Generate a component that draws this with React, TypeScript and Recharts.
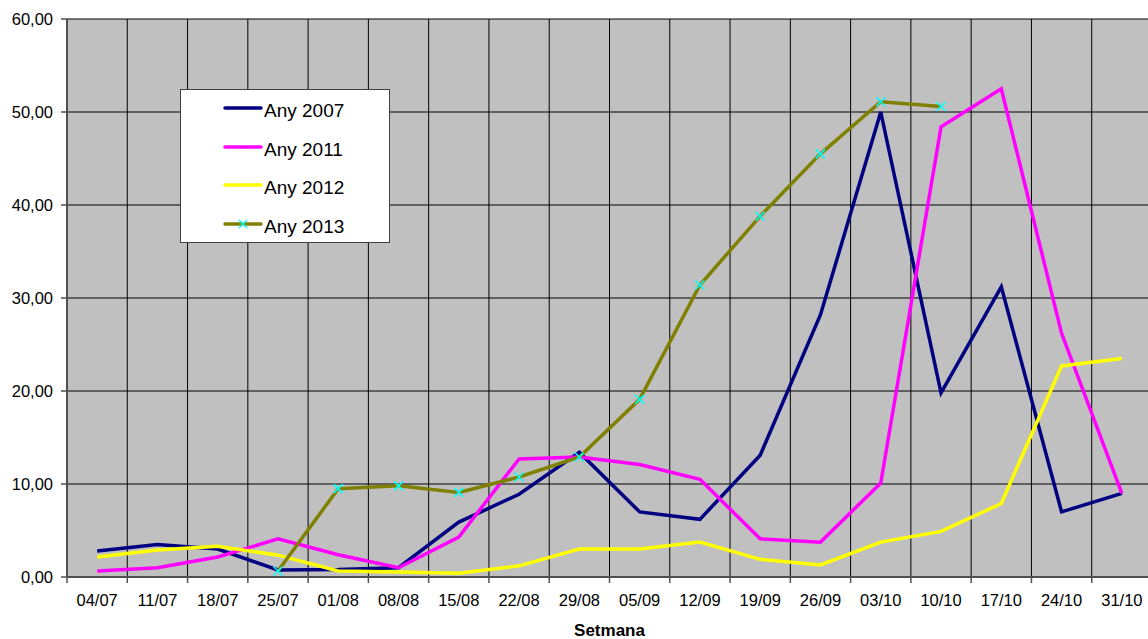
import { CartesianGrid, Line, LineChart, XAxis, YAxis } from "recharts";

const weeks = [
  "04/07", "11/07", "18/07", "25/07", "01/08", "08/08", "15/08", "22/08", "29/08",
  "05/09", "12/09", "19/09", "26/09", "03/10", "10/10", "17/10", "24/10", "31/10",
];

const any2007 = [2.8, 3.5, 3.0, 0.75, 0.8, 1.0, 5.9, 8.9, 13.4, 7.0, 6.2, 13.1, 28.2, 50.0, 19.8, 31.2, 7.0, 9.0];
const any2011 = [0.65, 1.0, 2.15, 4.1, 2.4, 1.0, 4.3, 12.7, 12.9, 12.1, 10.5, 4.1, 3.75, 10.1, 48.4, 52.5, 26.2, 9.0];
const any2012 = [2.15, 2.9, 3.3, 2.35, 0.65, 0.55, 0.4, 1.2, 3.0, 3.0, 3.75, 1.9, 1.3, 3.75, 4.9, 7.9, 22.7, 23.5];
const any2013 = [null, null, null, 0.65, 9.5, 9.8, 9.1, 10.75, 12.9, 19.1, 31.4, 38.8, 45.5, 51.1, 50.6, null, null, null];

const yTicks = [0, 10, 20, 30, 40, 50, 60];

const series = [
  { key: "a2007", name: "Any 2007", color: "#000080", marker: false },
  { key: "a2011", name: "Any 2011", color: "#FF00FF", marker: false },
  { key: "a2012", name: "Any 2012", color: "#FFFF00", marker: false },
  { key: "a2013", name: "Any 2013", color: "#808000", marker: true },
];

const data = weeks.map((week, i) => ({
  week,
  a2007: any2007[i],
  a2011: any2011[i],
  a2012: any2012[i],
  a2013: any2013[i],
}));

const FONT = '"Liberation Sans", Arial, sans-serif';
const CHART_W = 1160;
const CHART_H = 639;
const Y_AXIS_W = 67;
const X_AXIS_H = 62;
const margin = { top: 19, right: 8, bottom: 0, left: 0 };
const BAND = (CHART_W - margin.left - margin.right - Y_AXIS_W) / weeks.length;

const fmt = (v: number) => v.toFixed(2).replace(".", ",");

const WeekTick = (props: any) => {
  const { x, y, payload } = props;
  const bx = x - BAND / 2;
  return (
    <g>
      <line x1={bx} y1={y} x2={bx} y2={y + 6} stroke="#505050" strokeWidth={1.5} />
      <text
        x={x}
        y={y + 25}
        textAnchor="middle"
        dominantBaseline="middle"
        fill="#000"
        style={{ fontFamily: FONT, fontSize: 16.5 }}
      >
        {payload.value}
      </text>
    </g>
  );
};

const CrossDot = (props: any) => {
  const { cx, cy, value } = props;
  if (value == null || cx == null || cy == null) return null;
  const s = 4.5;
  return (
    <path
      d={`M${cx - s},${cy - s}L${cx + s},${cy + s}M${cx + s},${cy - s}L${cx - s},${cy + s}`}
      stroke="#00FFFF"
      strokeWidth={1.5}
      fill="none"
    />
  );
};

const ChartLegend = () => (
  <div
    style={{
      position: "absolute",
      left: 180,
      top: 89,
      width: 210,
      height: 154,
      background: "#fff",
      border: "1px solid #404040",
      boxSizing: "border-box",
      fontFamily: FONT,
      fontSize: 19,
    }}
  >
    {series.map((s, i) => (
      <div
        key={s.key}
        style={{ position: "absolute", left: 42, top: 8 + i * 38.5, height: 26, display: "flex", alignItems: "center" }}
      >
        <svg width={40} height={26} style={{ display: "block" }}>
          <line x1={2} y1={10} x2={38} y2={10} stroke={s.color} strokeWidth={3.5} strokeLinecap="round" />
          {s.marker && <path d="M16,6L24,14M24,6L16,14" stroke="#00FFFF" strokeWidth={1.5} />}
        </svg>
        <span style={{ marginLeft: 1, color: "#000" }}>{s.name}</span>
      </div>
    ))}
  </div>
);

export default function App() {
  return (
    <div
      style={{
        position: "absolute",
        left: 0,
        top: 0,
        width: 1148,
        height: 639,
        overflow: "hidden",
        background: "#fff",
      }}
    >
      <LineChart width={CHART_W} height={CHART_H} data={data} margin={margin}>
        <CartesianGrid
          fill="#C0C0C0"
          stroke="#000"
          strokeWidth={1}
          verticalCoordinatesGenerator={({ offset }: any) =>
            Array.from({ length: weeks.length + 1 }, (_, i) => offset.left + (offset.width * i) / weeks.length)
          }
        />
        <XAxis
          dataKey="week"
          height={X_AXIS_H}
          interval={0}
          padding={{ left: BAND / 2, right: BAND / 2 }}
          tickSize={0}
          tickMargin={0}
          tickLine={false}
          axisLine={{ stroke: "#505050", strokeWidth: 2 }}
          tick={<WeekTick />}
          label={{
            value: "Setmana",
            position: "insideBottom",
            offset: 3,
            style: { fontFamily: FONT, fontSize: 17, fontWeight: "bold", fill: "#000" },
          }}
        />
        <YAxis
          width={Y_AXIS_W}
          domain={[0, 60]}
          ticks={yTicks}
          interval={0}
          tickFormatter={fmt}
          tickSize={6}
          tickMargin={8}
          tickLine={{ stroke: "#505050", strokeWidth: 1.5 }}
          axisLine={{ stroke: "#505050", strokeWidth: 2 }}
          tick={{ fill: "#000", fontSize: 16.5, fontFamily: FONT }}
        />
        {series.map((s) => (
          <Line
            key={s.key}
            type="linear"
            dataKey={s.key}
            name={s.name}
            stroke={s.color}
            strokeWidth={3.5}
            dot={s.marker ? <CrossDot /> : false}
            activeDot={false}
            isAnimationActive={false}
          />
        ))}
      </LineChart>
      <ChartLegend />
    </div>
  );
}
